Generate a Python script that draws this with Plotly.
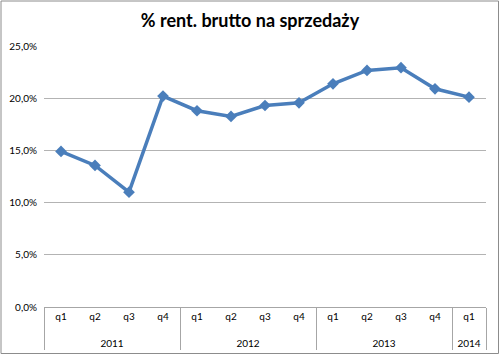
import plotly.graph_objects as go

years = ["2011"] * 4 + ["2012"] * 4 + ["2013"] * 4 + ["2014"]
quarters = ["q1", "q2", "q3", "q4", "q1", "q2", "q3", "q4", "q1", "q2", "q3", "q4", "q1"]
values = [0.149, 0.1356, 0.110, 0.202, 0.188, 0.1825, 0.193, 0.1956, 0.2138, 0.2266, 0.2292, 0.209, 0.201]
title_text = "% rent. brutto na sprzedaży"

L, R, T, B = 44, 486, 46, 307
W, H = 500, 356

def px_x(p):
    return (p - L) / (R - L)

def px_y(p):
    return (B - p) / (B - T)

year_labels = ["<br>" + y for y in years]

fig = go.Figure()
fig.add_trace(go.Scatter(
    x=[year_labels, quarters], y=values, mode="lines+markers",
    line=dict(color="#4a7ebb", width=3.5),
    marker=dict(symbol="diamond", size=9, color="#4a7ebb"),
    showlegend=False, hoverinfo="skip",
))

fig.update_layout(
    width=W, height=H,
    margin=dict(l=L, r=W - R, t=T, b=H - B, autoexpand=False),
    paper_bgcolor="white", plot_bgcolor="white",
    separators=", ",
    font=dict(family="Lato, Open Sans, sans-serif", size=10, color="#000000"),
    title=dict(text="<b>" + title_text + "</b>", x=0.5, xanchor="center",
               y=1 - 21 / H, yanchor="middle",
               font=dict(size=18, family="Lato, Open Sans, sans-serif", color="#000")),
    xaxis=dict(type="multicategory", range=[-0.5, len(values) - 0.5],
               showline=True, linecolor="#a6a6a6", linewidth=1,
               showgrid=False, ticks="outside", ticklen=8, tickcolor="rgba(0,0,0,0)",
               showdividers=True, dividercolor="#a6a6a6",
               dividerwidth=1, tickfont=dict(size=10), automargin=False),
    yaxis=dict(range=[0, 0.25], dtick=0.05, tickformat=".1%", showgrid=True,
               gridcolor="#b3b3b3", gridwidth=1, zeroline=False, showline=False,
               ticks="", tickfont=dict(size=10), automargin=False, ticklabelstandoff=6),
    shapes=[dict(type="rect", xref="paper", yref="paper",
                 x0=px_x(1), x1=px_x(498.5), y0=px_y(353.5), y1=px_y(1),
                 line=dict(color="#8c8c8c", width=1), layer="below")],
)

fig.write_html("out.html", config={"displayModeBar": False},
               post_script="document.body.style.margin='0px';")
